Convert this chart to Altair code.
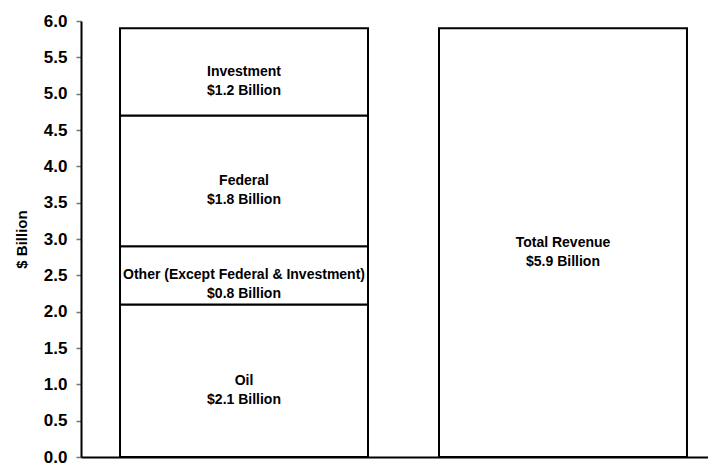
import altair as alt
import pandas as pd

categories = ["Sources", "Total"]
segment_names = ["Oil", "Other (Except Federal & Investment)", "Federal", "Investment"]
segment_values = [2.1, 0.8, 1.8, 1.2]
segment_amounts = ["$2.1 Billion", "$0.8 Billion", "$1.8 Billion", "$1.2 Billion"]
total_name = "Total Revenue"
total_value = 5.9
total_amount = "$5.9 Billion"
y_ticks = [0.0, 0.5, 1.0, 1.5, 2.0, 2.5, 3.0, 3.5, 4.0, 4.5, 5.0, 5.5, 6.0]

rows = []
cum = 0.0
for name, val, amt in zip(segment_names, segment_values, segment_amounts):
    rows.append({"cat": categories[0], "start": cum, "end": cum + val,
                 "mid": cum + val / 2, "lines": [name, amt]})
    cum += val
rows.append({"cat": categories[1], "start": 0.0, "end": total_value,
             "mid": total_value / 2, "lines": [total_name, total_amount]})
df = pd.DataFrame(rows)

FONT = "Liberation Sans"
W = 627
H = 436

xscale = alt.Scale(domain=categories, paddingInner=0.2226, paddingOuter=0.0941)
yscale = alt.Scale(domain=[0, 6], nice=False)

xaxis = alt.Axis(labels=False, ticks=False, title=None,
                 domainColor="black", domainWidth=2)
yaxis = alt.Axis(values=y_ticks, format=".1f", grid=False, labelOverlap=False,
                 title="$ Billion", titleFont=FONT, titleFontSize=15,
                 titleFontWeight="bold", titleColor="black", titlePadding=14,
                 labelFont=FONT, labelFontSize=17, labelFontWeight="bold",
                 labelColor="black", labelPadding=9,
                 tickSize=5, tickColor="#777777", tickWidth=1.5,
                 domainColor="black", domainWidth=2)

bars = alt.Chart(df).mark_bar(fill="white", stroke="black", strokeWidth=2, xOffset=9).encode(
    x=alt.X("cat:N", scale=xscale, axis=xaxis),
    y=alt.Y("start:Q", scale=yscale, axis=yaxis),
    y2="end:Q")

texts = alt.Chart(df).mark_text(font=FONT, fontWeight="bold", fontSize=14,
                                lineHeight=19, baseline="middle", align="center",
                                color="black", dx=9).encode(
    x=alt.X("cat:N", scale=xscale, axis=xaxis),
    y=alt.Y("mid:Q", scale=yscale, axis=yaxis),
    text="lines")

chart = (bars + texts).properties(
    width=W, height=H,
    padding={"left": 6, "top": 4, "right": 0, "bottom": 0},
).configure_view(strokeWidth=0)

chart.save("out.html", embed_options={"renderer": "svg", "actions": False})
